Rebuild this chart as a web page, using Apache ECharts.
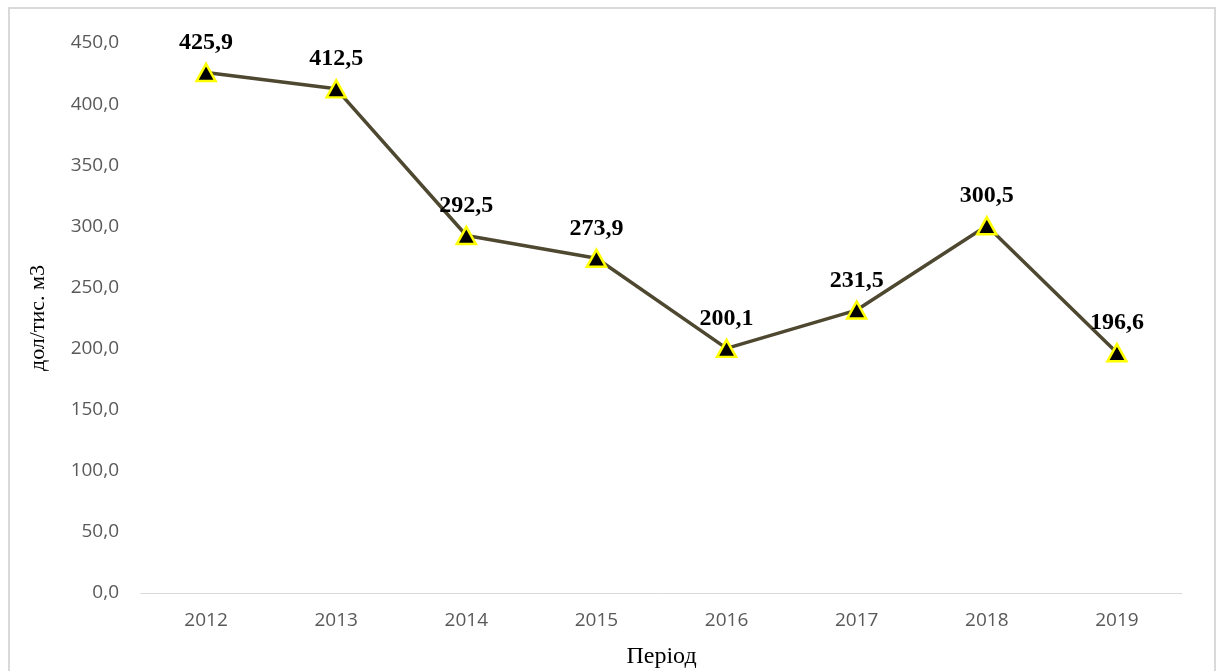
<!DOCTYPE html>
<html>
<head>
<meta charset="utf-8">
<script src="https://cdn.jsdelivr.net/npm/echarts@6/dist/echarts.min.js"></script>
<style>
  html, body { margin: 0; padding: 0; background: #fff; }
  #chart { width: 1217px; height: 671px; }
</style>
</head>
<body>
<div id="chart"></div>
<script>
const years = ["2012", "2013", "2014", "2015", "2016", "2017", "2018", "2019"];
const prices = [425.9, 412.5, 292.5, 273.9, 200.1, 231.5, 300.5, 196.6];

const myChart = echarts.init(document.getElementById("chart"));
myChart.setOption({
  animation: false,
  graphic: [
    {
      type: "rect",
      shape: { x: 9, y: 8, width: 1206, height: 700 },
      style: { fill: "none", stroke: "#d9d9d9", lineWidth: 2 },
    },
  ],
  grid: {
    left: 141,
    right: 35,
    top: 43,
    bottom: 78,
    outerBoundsMode: "none",
  },
  xAxis: {
    type: "category",
    data: years,
    name: "Період",
    nameLocation: "middle",
    nameGap: 52,
    nameTextStyle: {
      fontFamily: "Liberation Serif",
      fontSize: 24,
      color: "#000",
    },
    axisLine: { lineStyle: { color: "#d9d9d9", width: 1 } },
    axisTick: { show: false },
    axisLabel: {
      color: "#595959",
      fontFamily: "Open Sans",
      fontSize: 19,
      margin: 18,
    },
  },
  yAxis: {
    type: "value",
    min: 0,
    max: 450,
    interval: 50,
    name: "дол/тис. м3",
    nameLocation: "middle",
    nameGap: 92,
    nameTextStyle: {
      fontFamily: "Liberation Serif",
      fontSize: 22,
      color: "#000",
    },
    splitLine: { show: false },
    axisLine: { show: false },
    axisTick: { show: false },
    axisLabel: {
      color: "#595959",
      fontFamily: "Open Sans",
      fontSize: 19,
      margin: 22,
      formatter: (v) => v.toFixed(1).replace(".", ","),
    },
  },
  series: [
    {
      type: "line",
      data: prices,
      symbol: "triangle",
      symbolSize: [19, 17],
      itemStyle: {
        color: "#000",
        borderColor: "#ffff00",
        borderWidth: 2.5,
      },
      lineStyle: { color: "#4e4831", width: 3.5 },
      label: {
        show: true,
        position: "top",
        distance: 8,
        fontFamily: "Liberation Serif",
        fontWeight: "bold",
        fontSize: 24,
        color: "#000",
        formatter: (p) => p.value.toFixed(1).replace(".", ","),
      },
    },
  ],
});
</script>
</body>
</html>
